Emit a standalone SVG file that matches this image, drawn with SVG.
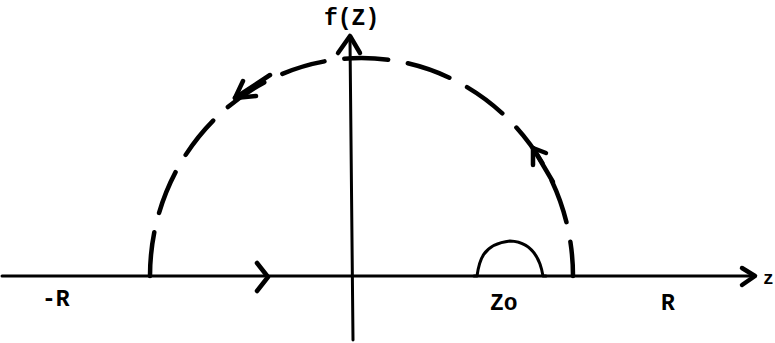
<svg xmlns="http://www.w3.org/2000/svg" width="775" height="343" viewBox="0 0 775 343">
<style>
.ln{fill:none;stroke:#000;stroke-width:3;stroke-linecap:round;stroke-linejoin:round}
.dash{fill:none;stroke:#000;stroke-width:4.5;stroke-linecap:round;stroke-dasharray:44 20}
.hd{fill:none;stroke:#000;stroke-width:4.5;stroke-linecap:round;stroke-linejoin:round}
.t{font-family:"Liberation Mono","DejaVu Sans Mono",monospace;font-weight:bold;font-size:23px;fill:#000}
</style>
<rect width="775" height="343" fill="#fff"/>
<g id="axes">
<line class="ln" x1="2" y1="276" x2="752" y2="276"/>
<path class="hd" d="M742,268 L755,276 L742,285"/>
<line class="ln" x1="353" y1="340" x2="350" y2="40"/>
<path class="hd" d="M338,53 L350,36 L360,53"/>
</g>
<g id="connectors">
<path class="dash" d="M150,276 A211.5,218 0 0 1 573,276"/>
<path class="ln" d="M474,276 L477,276 C479,262 482,244 510,241 C532,242 540,258 543,276 L546,276"/>
<path class="hd" d="M257,263 L268,277 L257,291"/>
<path class="hd" d="M243,81 L235,98 L256,96"/>
<path class="hd" d="M533,165 L533,148 L546,153"/>
<path class="hd" d="M533,148 L553,182"/>
<path class="hd" d="M235,98 L270,75"/>
</g>
<g id="labels">
<text class="t" x="324" y="25">f(Z)</text>
<text class="t" x="42" y="306">-R</text>
<text class="t" x="490" y="310">Zo</text>
<text class="t" x="661" y="310">R</text>
<text class="t" x="763" y="284" style="font-size:18px">z</text>
</g>
</svg>
